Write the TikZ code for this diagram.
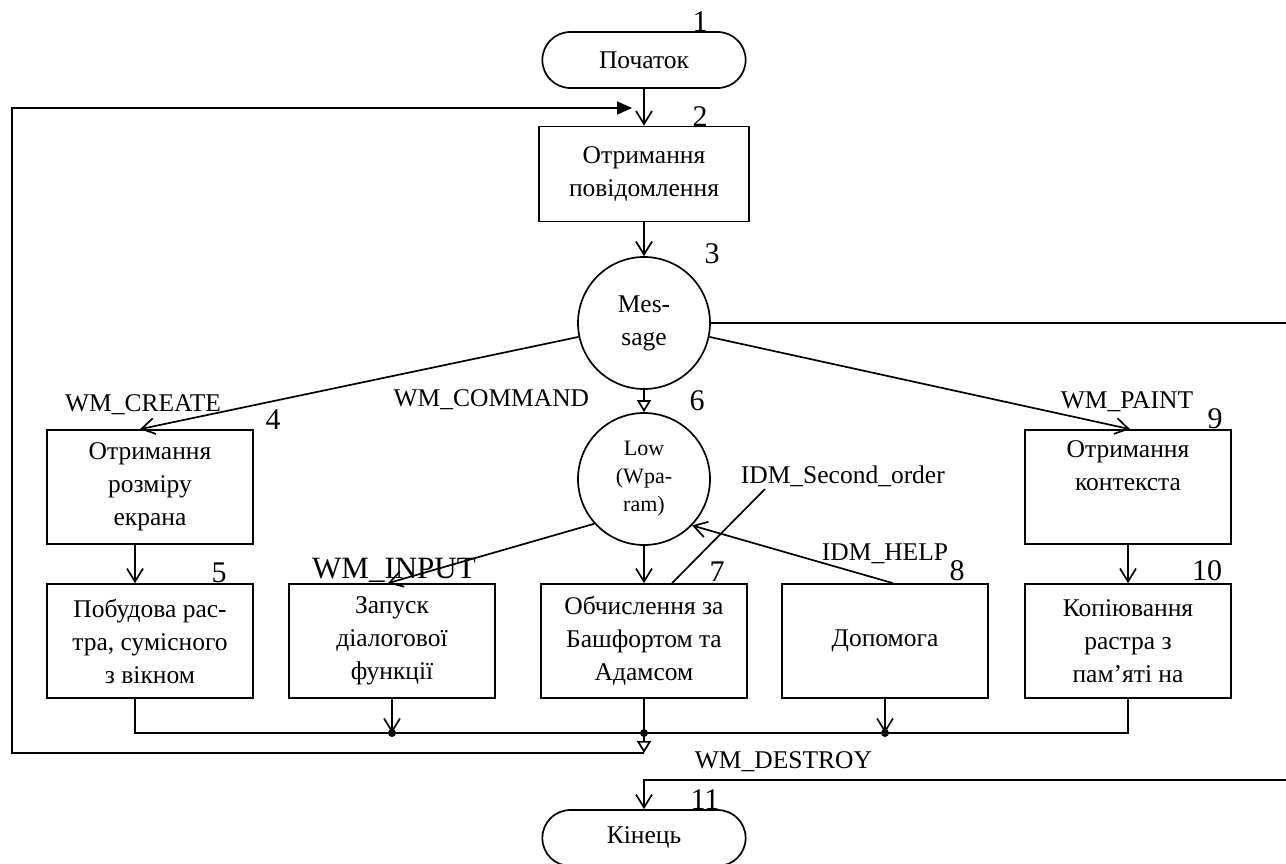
\documentclass[tikz,border=0pt]{standalone}
\usepackage{fontspec}
\setmainfont{Liberation Serif}
\usetikzlibrary{arrows.meta,shapes.misc}

\begin{document}
\begin{tikzpicture}[x=1pt,y=-1pt,line width=1.7pt,font=\fontsize{25.5}{33}\selectfont,
   box/.style={draw,align=center,minimum width=206pt,minimum height=114pt,inner sep=0pt},
   term/.style={draw,rounded rectangle,minimum width=210pt,minimum height=56pt},
   sel/.style={draw,circle,minimum size=132pt,inner sep=0pt,align=center},
   num/.style={anchor=south,inner sep=0pt,font=\fontsize{30}{30}\selectfont},
   lbl/.style={inner sep=0pt},
   arr/.style={-{Straight Barb[length=13pt,width=16pt]}},
   tri/.style={-{Triangle[open,length=12pt,width=14pt]}},
   retarr/.style={-{Triangle[length=15pt,width=13pt]}}]
   \useasboundingbox (0,0) rectangle (1286,863);
   \node[term] (start) at (644,60) {Початок};
   \node[box,minimum width=210pt,minimum height=95pt] (getmsg) at (644,174) {Отримання\\повідомлення};
   \node[sel] (msg) at (644,323) {Mes-\\sage};
   \node[sel,font=\fontsize{22}{28}\selectfont] (low) at (644,479) {Low\\(Wpa-\\ram)};
   \node[box] (getsize) at (150,487) {Отримання\\розміру\\екрана};
   \node[box] (getdc) at (1128,487) {Отримання\\контекста\\\strut};
   \node[box] (mkbmp) at (150,641) {Побудова рас-\\тра, сумісного\\з вікном};
   \node[box] (dlg) at (392,641) {Запуск\\діалогової\\функції};
   \node[box] (calc) at (644,641) {Обчислення за\\Башфортом та\\Адамсом};
   \node[box] (help) at (885,641) {Допомога};
   \node[box] (copybmp) at (1128,641) {Копіювання\\растра з\\пам’яті на};
   \node[term] (stop) at (644,838) {Кінець};
   \node[num] (n1) at (700,32) {1};
   \node[num] (n2) at (700,127) {2};
   \node[num] (n3) at (712,265) {3};
   \node[num] (n4) at (273,430) {4};
   \node[num] (n5) at (219,584) {5};
   \node[num] (n6) at (697,412) {6};
   \node[num] (n7) at (717,582) {7};
   \node[num] (n8) at (957,582) {8};
   \node[num] (n9) at (1215,430) {9};
   \node[num] (n10) at (1207,582) {10};
   \node[num] (n11) at (705,810) {11};
   \node[lbl,anchor=base] (create) at (143,411) {WM\_CREATE};
   \node[lbl,anchor=base east] (command) at (590,406) {WM\_COMMAND};
   \node[lbl,anchor=base] (paint) at (1127,408) {WM\_PAINT};
   \node[lbl,anchor=base west] (second) at (740,483) {IDM\_Second\_order};
   \node[lbl,anchor=base,font=\fontsize{31}{31}\selectfont] (input) at (394,578) {WM\_INPUT};
   \node[lbl,anchor=base] (helplbl) at (885,560) {IDM\_HELP};
   \node[lbl,anchor=base west] (destroy) at (694,768) {WM\_DESTROY};
   \coordinate (bus) at (0,733);
   \coordinate (ret) at (644,753);
   \coordinate (entry) at (632,108);
   \draw[arr] (start) -- (getmsg);
   \draw[arr] (getmsg) -- (msg);
   \draw[tri] (msg) -- (low);
   \draw[arr] (msg.192) -- ([xshift=-10pt]getsize.north);
   \draw[arr] (msg.-12) -- ([xshift=2pt]getdc.north);
   \draw[arr] (msg.east) -- (1300,323) -- (1300,780) -- (644,780) -- (stop);
   \draw[arr] ([xshift=-15pt]getsize.south) -- ([xshift=-15pt]mkbmp.north);
   \draw[arr] (getdc) -- (copybmp);
   \draw[arr] (low.222) -- ([xshift=-4pt]dlg.north);
   \draw[arr] (low) -- (calc);
   \draw[arr] ([xshift=8pt]help.north) -- (low.-44);
   \draw ([xshift=28pt]calc.north) -- ([shift={(25pt,-6pt)}]second.base west);
   \draw ([xshift=-15pt]mkbmp.south) |- (copybmp.south |- bus) -- (copybmp.south);
   \draw[arr] (dlg) -- (dlg |- bus);
   \draw[arr] (help) -- (help |- bus);
   \draw (calc) -- (calc |- bus);
   \draw[tri] (calc |- bus) -- (ret);
   \draw[retarr] (ret) -- (12,753) -- (12,108) -- (entry);
   \fill (dlg |- bus) circle (4pt) (calc |- bus) circle (4pt) (help |- bus) circle (4pt);
\end{tikzpicture}
\end{document}
